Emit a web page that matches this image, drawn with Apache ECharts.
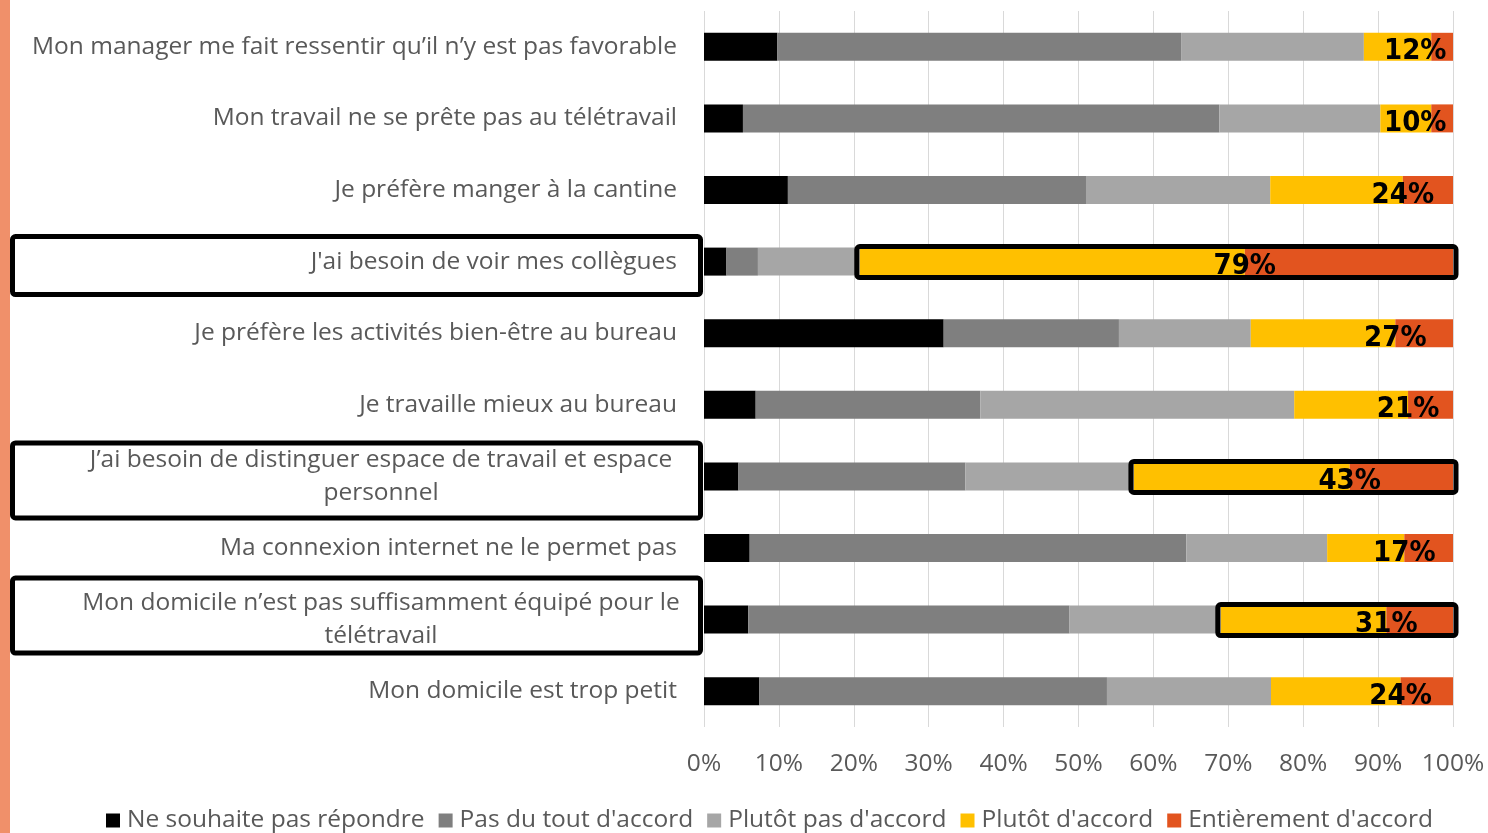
<!DOCTYPE html>
<html>
<head>
<meta charset="utf-8">
<script src="https://cdn.jsdelivr.net/npm/echarts@6/dist/echarts.min.js"></script>
<style>
html, body { margin: 0; padding: 0; background: #fff; }
#chart_1 { width: 1488px; height: 833px; }
</style>
</head>
<body>
<div id="chart_1"></div>
<script>
// categories (top to bottom)
var categories = [
	"Mon manager me fait ressentir qu\u2019il n\u2019y est pas favorable",
	"Mon travail ne se prête pas au télétravail",
	"Je préfère manger à la cantine",
	"J'ai besoin de voir mes collègues",
	"Je préfère les activités bien-être au bureau",
	"Je travaille mieux au bureau",
	"J\u2019ai besoin de distinguer espace de travail et espace\npersonnel",
	"Ma connexion internet ne le permet pas",
	"Mon domicile n\u2019est pas suffisamment équipé pour le\ntélétravail",
	"Mon domicile est trop petit"
];
var seriesNames = ["Ne souhaite pas répondre", "Pas du tout d'accord", "Plutôt pas d'accord", "Plutôt d'accord", "Entièrement d'accord"];

// valeurs en %
var noAnswer        = [9.8, 5.2, 11.2, 3.0, 32.0, 6.9, 4.6, 6.1, 5.9, 7.4];
var totallyDisagree = [53.9, 63.6, 39.8, 4.2, 23.4, 30.0, 30.3, 58.3, 42.9, 46.4];
var ratherDisagree  = [24.4, 21.5, 24.6, 13.6, 17.6, 41.9, 22.5, 18.8, 20.2, 21.9];
var ratherAgree     = [9.0, 6.8, 17.7, 51.4, 19.3, 15.2, 28.8, 10.3, 22.1, 17.3];
var fullyAgree      = [2.9, 2.9, 6.7, 27.8, 7.7, 6.0, 13.8, 6.5, 8.9, 7.0];

// lignes encadrées
var highlighted = [3, 6, 8];

var colors = ['#000000', '#7f7f7f', '#a6a6a6', '#ffc000', '#e2541f'];
var textFont = '"Open Sans", "Noto Sans", sans-serif';
var textSize = 24.5;
// petit décalage vertical des cadres de gauche
var boxShift = { 3: 4, 6: 4, 8: -4 };

function agreeTotal(i) {
	return Math.round(ratherAgree[i] + fullyAgree[i]);
}

function yellowEnd(i) {
	return noAnswer[i] + totallyDisagree[i] + ratherDisagree[i] + ratherAgree[i];
}

var yellowData = ratherAgree.map(function (v, i) {
	// le libellé reste dans la zone de tracé
	var shift = yellowEnd(i) > 96 ? -16 : 0;
	return { value: v, label: { offset: [shift, 5] } };
});

var boxData = highlighted.map(function (i) {
	return [noAnswer[i] + totallyDisagree[i] + ratherDisagree[i], i];
});

function barSeries(name, data, idx) {
	return {
		name: name,
		type: 'bar',
		stack: 'total',
		barWidth: 28,
		itemStyle: { color: colors[idx] },
		emphasis: { disabled: true },
		data: data
	};
}

var yellowSeries = barSeries(seriesNames[3], yellowData, 3);
yellowSeries.label = {
	show: true,
	position: 'right',
	distance: 0,
	align: 'center',
	verticalAlign: 'middle',
	fontFamily: '"DejaVu Sans Condensed", "Liberation Sans Narrow", sans-serif',
	fontWeight: 'bold',
	fontSize: 29,
	color: '#000',
	formatter: function (p) {
		return agreeTotal(p.dataIndex) + '%';
	}
};

var option = {
	animation: false,
	graphic: [{
		type: 'rect',
		left: 0, top: 0,
		shape: { width: 10, height: 833 },
		style: { fill: '#f0906a' }
	}],
	grid: { left: 704, right: 35, top: 11, bottom: 106 },
	legend: {
		data: seriesNames,
		left: 101,
		top: 803,
		itemWidth: 14,
		itemHeight: 14,
		itemGap: 14,
		icon: 'rect',
		textStyle: { fontFamily: textFont, fontSize: textSize, color: '#595959', padding: [0, 0, 0, 2] }
	},
	xAxis: {
		type: 'value',
		min: 0,
		max: 100,
		interval: 10,
		axisLine: { show: false },
		axisTick: { show: false },
		splitLine: { lineStyle: { color: '#d9d9d9', width: 1 } },
		axisLabel: {
			formatter: '{value}%',
			margin: 25,
			fontFamily: textFont,
			fontSize: textSize,
			color: '#595959'
		}
	},
	yAxis: {
		type: 'category',
		inverse: true,
		data: categories,
		axisLine: { show: false },
		axisTick: { show: false },
		axisLabel: {
			margin: 27,
			fontFamily: textFont,
			fontSize: textSize,
			color: '#595959',
			lineHeight: 33,
			formatter: function (v) {
				if (v.indexOf('\n') < 0) {
					return v;
				}
				return v.split('\n').map(function (l) {
					return '{c|' + l + '}';
				}).join('\n');
			},
			rich: {
				c: {
					width: 592,
					align: 'center',
					fontFamily: textFont,
					fontSize: textSize,
					color: '#595959',
					lineHeight: 33
				}
			}
		}
	},
	series: [
		barSeries(seriesNames[0], noAnswer, 0),
		barSeries(seriesNames[1], totallyDisagree, 1),
		barSeries(seriesNames[2], ratherDisagree, 2),
		yellowSeries,
		barSeries(seriesNames[4], fullyAgree, 4),
		{
			type: 'custom',
			z: 10,
			clip: false,
			silent: true,
			encode: { x: 0, y: 1 },
			data: boxData,
			renderItem: function (params, api) {
				var idx = api.value(1);
				var start = api.coord([api.value(0), idx]);
				var end = api.coord([100, idx]);
				var zero = api.coord([0, idx]);
				var h = categories[idx].indexOf('\n') >= 0 ? 75 : 58;
				var cy = zero[1] + (boxShift[idx] || 0);
				return {
					type: 'group',
					children: [{
						type: 'rect',
						shape: { x: start[0] - 3, y: start[1] - 15, width: end[0] - start[0] + 6, height: 31, r: 3 },
						style: { fill: 'none', stroke: '#000', lineWidth: 5 }
					}, {
						type: 'rect',
						shape: { x: 12.5, y: cy - h / 2, width: zero[0] - 16, height: h, r: 3 },
						style: { fill: 'none', stroke: '#000', lineWidth: 5 }
					}]
				};
			}
		}
	]
};

var myChart = echarts.init(document.getElementById('chart_1'));
myChart.setOption(option);
</script>
</body>
</html>
